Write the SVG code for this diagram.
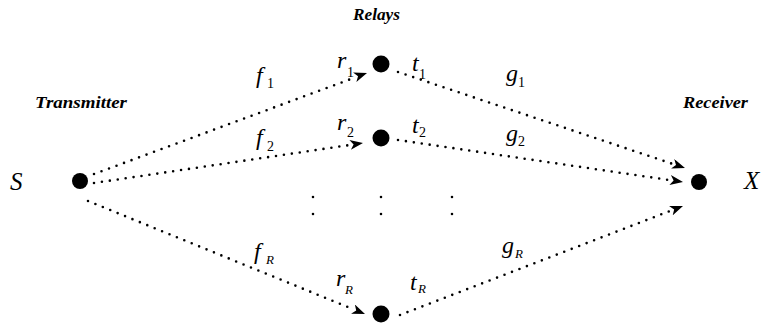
<svg xmlns="http://www.w3.org/2000/svg" width="763" height="327" viewBox="0 0 763 327">
<style>
  .node { fill: #000; }
  .edge { fill: none; stroke: #000; stroke-width: 2.6; stroke-linecap: round; stroke-dasharray: 0 8; }
  .tip { stroke: none; fill: none; }
  .vdots { fill: none; stroke: #000; stroke-width: 2.6; stroke-linecap: round; stroke-dasharray: 0 17; }
  .title { font-family: "Liberation Serif", "Times New Roman", serif; font-style: italic; font-weight: bold; font-size: 16px; fill: #000; }
  .lbl { font-family: "Liberation Serif", "Times New Roman", serif; font-style: italic; font-size: 24px; fill: #000; }
  .sub { font-family: "Liberation Serif", "Times New Roman", serif; font-size: 14px; fill: #000; }
  .subi { font-family: "Liberation Serif", "Times New Roman", serif; font-style: italic; font-size: 13px; fill: #000; }
  .big { font-family: "Liberation Serif", "Times New Roman", serif; font-style: italic; font-size: 25px; fill: #000; }
</style>
<defs>
  <marker id="arr" viewBox="0 0 13 10" refX="13" refY="5" markerWidth="13" markerHeight="10" markerUnits="userSpaceOnUse" orient="auto">
    <path d="M0,0 L13,5 L0,10 L3.5,5 Z" fill="#000"/>
  </marker>
</defs>
<rect width="763" height="327" fill="#fff"/>

<g id="connectors">
  <path class="edge" d="M94,174 L353.9,77.9"/>
  <line class="tip" x1="366" y1="73.35" x2="367" y2="73" marker-end="url(#arr)"/>
  <path class="edge" d="M94,183 L349.2,145.1"/>
  <line class="tip" x1="362" y1="143.15" x2="363" y2="143" marker-end="url(#arr)"/>
  <path class="edge" d="M88,201 L352,308.7"/>
  <line class="tip" x1="364.07" y1="313.62" x2="365" y2="314" marker-end="url(#arr)"/>
  <path class="edge" d="M398,72 L671.7,163.6"/>
  <line class="tip" x1="684.05" y1="167.68" x2="685" y2="168" marker-end="url(#arr)"/>
  <path class="edge" d="M398,140 L669.2,180"/>
  <line class="tip" x1="682.01" y1="181.85" x2="683" y2="182" marker-end="url(#arr)"/>
  <path class="edge" d="M400,315 L669.9,211"/>
  <line class="tip" x1="682.07" y1="206.36" x2="683" y2="206" marker-end="url(#arr)"/>
</g>

<g id="ellipsis">
  <path class="vdots" d="M313,197 L313,231 M381,197 L381,231 M452,197 L452,231"/>
</g>

<g id="transmitter">
  <circle class="node" cx="80" cy="181" r="8"/>
  <text class="big" x="10" y="190">S</text>
  <text class="title" x="35" y="108" textLength="92" lengthAdjust="spacingAndGlyphs">Transmitter</text>
</g>
<g id="relay1">
  <circle class="node" cx="381" cy="64" r="8.5"/>
</g>
<g id="relay2">
  <circle class="node" cx="381" cy="138" r="8.5"/>
</g>
<g id="relayR">
  <circle class="node" cx="381" cy="314" r="8.5"/>
</g>
<g id="receiver">
  <circle class="node" cx="699" cy="182" r="8"/>
  <text class="big" x="744" y="189">X</text>
  <text class="title" x="683" y="108" textLength="65" lengthAdjust="spacingAndGlyphs">Receiver</text>
</g>
<g id="relays-title">
  <text class="title" x="353" y="20" textLength="47" lengthAdjust="spacingAndGlyphs">Relays</text>
</g>

<g id="labels">
  <text class="lbl" x="256" y="83">f</text><text class="sub" x="267" y="88">1</text>
  <text class="lbl" x="256" y="145">f</text><text class="sub" x="267" y="151">2</text>
  <text class="lbl" x="254" y="259">f</text><text class="subi" x="266" y="264">R</text>
  <text class="lbl" x="337" y="68">r</text><text class="sub" x="347" y="77">1</text>
  <text class="lbl" x="337" y="130">r</text><text class="sub" x="347" y="137">2</text>
  <text class="lbl" x="336" y="286">r</text><text class="subi" x="345" y="294">R</text>
  <text class="lbl" x="412" y="71">t</text><text class="sub" x="419" y="79">1</text>
  <text class="lbl" x="412" y="133">t</text><text class="sub" x="419" y="137">2</text>
  <text class="lbl" x="410" y="290">t</text><text class="subi" x="418" y="293">R</text>
  <text class="lbl" x="506" y="81">g</text><text class="sub" x="518" y="87">1</text>
  <text class="lbl" x="506" y="141">g</text><text class="sub" x="518" y="146">2</text>
  <text class="lbl" x="502" y="253">g</text><text class="subi" x="515" y="258">R</text>
</g>
</svg>
